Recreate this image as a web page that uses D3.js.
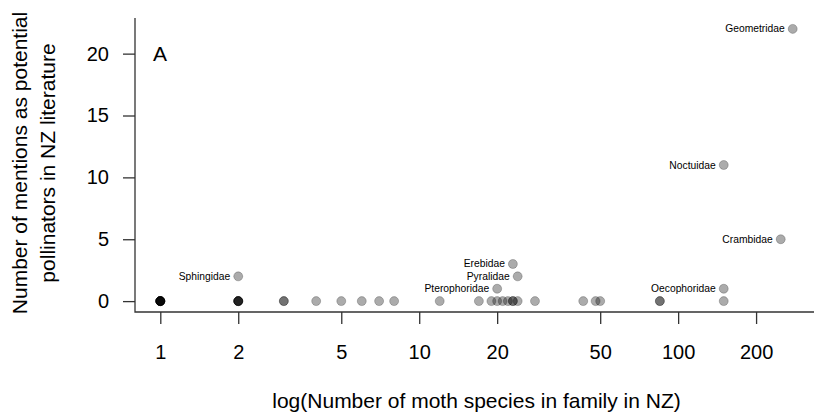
<!DOCTYPE html>
<html><head><meta charset="utf-8">
<script src="https://cdn.jsdelivr.net/npm/d3@7"></script>
<style>
body{margin:0;background:#fff;}
text{font-family:"Liberation Sans",Arial,sans-serif;fill:#000;}
</style></head>
<body><svg id="c" width="814" height="412"></svg>
<script>
// Labelled families: species count in NZ, number of mentions
const labelNames = ["Geometridae","Noctuidae","Crambidae","Oecophoridae","Erebidae","Pyralidae","Pterophoridae","Sphingidae"];
const labelSpecies = [277,150,249,150,23,24,20,2];
const labelMentions = [22,11,5,1,3,2,1,2];
// Unlabelled families (all with zero mentions)
const zeroSpecies = [1,1,1,1,1,1,1,1,2,2,2,2,2,3,3,4,5,6,7,8,12,17,19,20,21,22,23,23,24,28,43,48,50,85,85,150];
const xTicks = [1,2,5,10,20,50,100,200];
const yTicks = [0,5,10,15,20];
const xTitle = "log(Number of moth species in family in NZ)";
const yTitle = ["Number of mentions as potential","pollinators in NZ literature"];
const panel = "A";

const svg = d3.select("#c");
const L = 135, R = 818, T = 18, B = 312;
const allX = labelSpecies.concat(zeroSpecies);
const allY = labelMentions.concat(zeroSpecies.map(()=>0));
const lx = d3.extent(allX).map(Math.log10), ly = d3.extent(allY);
const ex = (lx[1]-lx[0])*0.04, ey = (ly[1]-ly[0])*0.04;
const x = d3.scaleLog().domain([Math.pow(10,lx[0]-ex), Math.pow(10,lx[1]+ex)]).range([L,R]);
const y = d3.scaleLinear().domain([ly[0]-ey, ly[1]+ey]).range([B,T]);

const tickFont = 20, titleFont = 21;
// box (L shape)
svg.append("path").attr("d",`M${L},${T}V${B}H${814}`).attr("fill","none").attr("stroke","#333").attr("stroke-width",1.3);

// x axis
const xa = svg.append("g").attr("transform",`translate(0,${B})`)
  .call(d3.axisBottom(x).tickValues(xTicks).tickFormat(d3.format("d")).tickSize(12).tickPadding(21));
xa.select(".domain").remove();
xa.selectAll("line").attr("stroke","#333").attr("stroke-width",1.3);
xa.selectAll("text").style("font-size",tickFont+"px").attr("fill","#000").attr("font-family",null);

// y axis
const ya = svg.append("g").attr("transform",`translate(${L},0)`)
  .call(d3.axisLeft(y).tickValues(yTicks).tickSize(12).tickPadding(14));
ya.select(".domain").remove();
ya.selectAll("line").attr("stroke","#333").attr("stroke-width",1.3);
ya.selectAll("text").style("font-size",tickFont+"px").attr("fill","#000").attr("font-family",null);

// titles
svg.append("text").attr("x",(L+R)/2).attr("y",408).attr("text-anchor","middle").style("font-size",titleFont+"px").text(xTitle);
yTitle.forEach((t,i)=>{
  svg.append("text").attr("transform",`translate(${27+i*28},${163}) rotate(-90)`)
    .attr("text-anchor","middle").style("font-size",titleFont+"px").text(t);
});
svg.append("text").attr("x",153).attr("y",61).style("font-size",titleFont+"px").text(panel);

// points
const pts = zeroSpecies.map(s=>({s,m:0})).concat(labelSpecies.map((s,i)=>({s,m:labelMentions[i],name:labelNames[i]})));
svg.append("g").selectAll("circle").data(pts).join("circle")
  .attr("cx",d=>x(d.s)).attr("cy",d=>y(d.m)).attr("r",4.5)
  .attr("fill","rgba(0,0,0,0.33)").attr("stroke","rgba(0,0,0,0.22)").attr("stroke-width",1);

svg.append("g").selectAll("text").data(pts.filter(d=>d.name)).join("text")
  .attr("x",d=>x(d.s)-8).attr("y",d=>y(d.m)+3.5).attr("text-anchor","end")
  .style("font-size","10.3px").text(d=>d.name);
</script></body></html>
